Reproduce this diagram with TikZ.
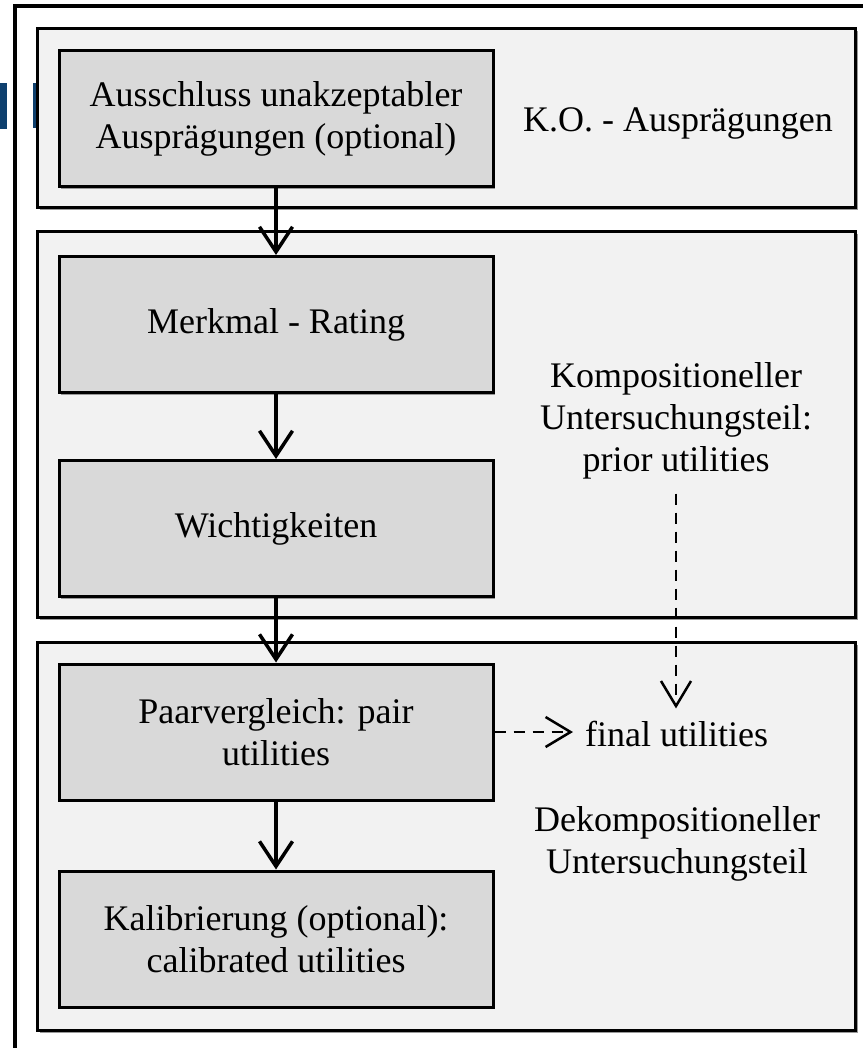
\documentclass[tikz,border=0pt]{standalone}
\usepackage{fontspec}
\setmainfont{Liberation Serif}
\usetikzlibrary{arrows.meta,shadows}
\definecolor{paneGray}{HTML}{F2F2F2}
\definecolor{stepGray}{HTML}{D9D9D9}
\definecolor{edgeBlue}{HTML}{0E406E}
\tikzset{
  pane/.style={draw,line width=3pt,fill=paneGray,minimum width=818pt,
    drop shadow={shadow xshift=2.5pt,shadow yshift=-2.5pt,fill=black!40,opacity=1}},
  stepbox/.style={draw,line width=3pt,fill=stepGray,minimum width=434pt,
    minimum height=136pt,align=center,
    drop shadow={shadow xshift=2pt,shadow yshift=-2pt,fill=black!40,opacity=1}},
  flow/.style={line width=3.5pt,-{Straight Barb[length=25pt,width=33pt]}},
  dashflow/.style={line width=2.5pt,dash pattern=on 11pt off 8pt,
    -{Straight Barb[length=25pt,width=30pt]}},
  note/.style={align=center,inner sep=0pt}
}
\begin{document}
\begin{tikzpicture}[x=1pt,y=-1pt,font=\fontsize{36}{42}\selectfont]
        \useasboundingbox (0,0) rectangle (862,1048);
        %% Frame
        \fill[edgeBlue] (0,83) rectangle (7,129);
        \fill[edgeBlue] (33,83) rectangle (35.5,128);
        \draw[line width=3.5pt] (15,1050) -- (15,6) -- (864,6);
        %% Sections
        \node[pane,minimum height=179pt] (secKO) at (446,118.5) {};
        \node[pane,minimum height=385pt] (secKomp) at (446,424.5) {};
        \node[pane,minimum height=388pt] (secDekomp) at (446,836) {};
        %% Steps
        \node[stepbox] (ausschluss) at (276,119) {Ausschluss unakzeptabler\\Ausprägungen (optional)};
        \node[stepbox] (merkmal) at (276,324.5) {Merkmal - Rating};
        \node[stepbox] (wichtig) at (276,528.5) {Wichtigkeiten};
        \node[stepbox] (paar) at (276,732) {Paarvergleich: pair\\utilities};
        \node[stepbox] (kalib) at (276,939) {Kalibrierung (optional):\\calibrated utilities};
        %% Labels
        \node[note,anchor=base] (ko) at (678,132) {K.O. - Ausprägungen};
        \node[note] (komp) at (676,421) {Kompositioneller\\Untersuchungsteil:\\prior utilities};
        \node[note] (dekomp) at (677,844) {Dekompositioneller\\Untersuchungsteil};
        \node[note,anchor=base west] (final) at (585,746) {final utilities};
        %% Arrows
        \draw[flow] (ausschluss) -- (merkmal);
        \draw[flow] (merkmal) -- (wichtig);
        \draw[flow] (wichtig) -- (paar);
        \draw[flow] (paar) -- (kalib);
        \draw[dashflow,shorten <=14pt,shorten >=12pt] (komp.south) -- (komp.south |- final.north);
        \draw[dashflow,shorten >=12pt] (paar.east) -- (paar.east -| final.west);
    \end{tikzpicture}
\end{document}
